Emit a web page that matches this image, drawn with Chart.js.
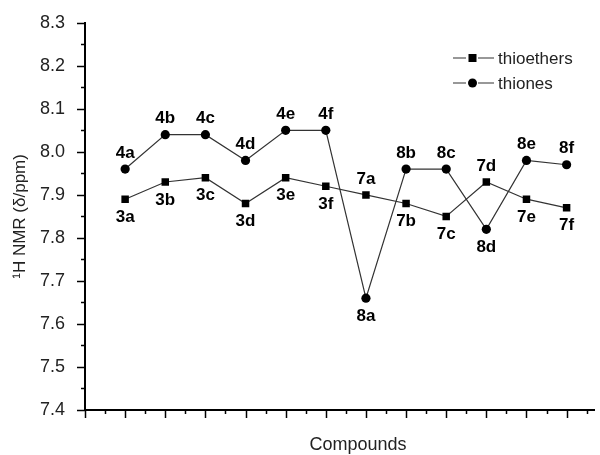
<!DOCTYPE html>
<html>
<head>
<meta charset="utf-8" />
<title>1H NMR of compounds</title>
<script src="https://cdn.jsdelivr.net/npm/chart.js@4"></script>
<style>
  html, body { margin: 0; padding: 0; background: #fff; }
  #wrap { width: 600px; height: 455px; }
</style>
</head>
<body>
<div id="wrap"><canvas id="nmrChart" width="600" height="455"></canvas></div>
<script>
  // chart data
  const positions = [1, 2, 3, 4, 5, 6, 7, 8, 9, 10, 11, 12];
  const thioetherNames = ['3a', '3b', '3c', '3d', '3e', '3f', '7a', '7b', '7c', '7d', '7e', '7f'];
  const thioetherShifts = [7.89, 7.93, 7.94, 7.88, 7.94, 7.92, 7.90, 7.88, 7.85, 7.93, 7.89, 7.87];
  const thioneNames = ['4a', '4b', '4c', '4d', '4e', '4f', '8a', '8b', '8c', '8d', '8e', '8f'];
  const thioneShifts = [7.96, 8.04, 8.04, 7.98, 8.05, 8.05, 7.66, 7.96, 7.96, 7.82, 7.98, 7.97];
  const yTicks = [7.4, 7.5, 7.6, 7.7, 7.8, 7.9, 8.0, 8.1, 8.2, 8.3];

  const FONT = '"Liberation Sans", Arial, sans-serif';

  // which side of the point each label goes (1 = above, -1 = below)
  const thioetherSide = [-1, -1, -1, -1, -1, -1, 1, -1, -1, 1, -1, -1];
  const thioneSide = [1, 1, 1, 1, 1, 1, -1, 1, 1, -1, 1, 1];

  // ticks, point labels, legend and x title drawn on the canvas
  const extras = {
    id: 'extras',
    afterDraw(chart) {
      const ctx = chart.ctx;
      const xs = chart.scales.x, ys = chart.scales.y;
      const area = chart.chartArea;
      ctx.save();
      ctx.strokeStyle = '#000';
      ctx.lineWidth = 1.5;

      // y ticks: major every 0.1, minor halfway
      for (let i = 0; i < yTicks.length; i++) {
        const py = Math.round(ys.getPixelForValue(yTicks[i])) + 0.5;
        ctx.beginPath(); ctx.moveTo(area.left - 8, py); ctx.lineTo(area.left, py); ctx.stroke();
        if (i < yTicks.length - 1) {
          const my = Math.round(ys.getPixelForValue(yTicks[i] + 0.05)) + 0.5;
          ctx.beginPath(); ctx.moveTo(area.left - 4, my); ctx.lineTo(area.left, my); ctx.stroke();
        }
      }
      // x ticks: major at each compound, minor halfway
      for (let v = 0; v <= xs.max; v += 0.5) {
        const px = Math.round(xs.getPixelForValue(v)) + 0.5;
        const len = Number.isInteger(v) ? 8 : 4;
        ctx.beginPath(); ctx.moveTo(px, area.bottom); ctx.lineTo(px, area.bottom + len); ctx.stroke();
      }

      // point labels
      ctx.fillStyle = '#000';
      ctx.textAlign = 'center';
      ctx.textBaseline = 'middle';
      ctx.font = 'bold 17px ' + FONT;
      const sets = [[thioetherNames, thioetherSide], [thioneNames, thioneSide]];
      sets.forEach(([names, side], di) => {
        const meta = chart.getDatasetMeta(di);
        meta.data.forEach((pt, j) => {
          const off = side[j] > 0 ? -16 : 18;
          ctx.fillText(names[j], pt.x, pt.y + off);
        });
      });

      // legend
      ctx.font = '17px ' + FONT;
      ctx.textAlign = 'left';
      const rows = [['thioethers', 'rect', 58], ['thiones', 'circle', 83]];
      rows.forEach(([txt, shape, ly]) => {
        ctx.strokeStyle = '#333';
        ctx.lineWidth = 1.2;
        ctx.beginPath(); ctx.moveTo(453, ly); ctx.lineTo(466, ly); ctx.moveTo(478, ly); ctx.lineTo(494, ly); ctx.stroke();
        ctx.fillStyle = '#000';
        if (shape === 'rect') {
          ctx.fillRect(468.5, ly - 4, 8, 8);
        } else {
          ctx.beginPath(); ctx.arc(472.5, ly, 4.5, 0, Math.PI * 2); ctx.fill();
        }
        ctx.fillStyle = '#222';
        ctx.fillText(txt, 498, ly + 1);
      });

      // x axis title
      ctx.font = '18px ' + FONT;
      ctx.textAlign = 'center';
      ctx.fillText('Compounds', xs.getPixelForValue(6.8), 445);
      ctx.restore();
    }
  };

  const ctxNmr = document.getElementById('nmrChart').getContext('2d');
  new Chart(ctxNmr, {
    type: 'line',
    data: {
      datasets: [
        {
          label: 'thioethers',
          data: positions.map((p, i) => ({ x: p, y: thioetherShifts[i] })),
          borderColor: '#333',
          borderWidth: 1.2,
          pointStyle: 'rect',
          pointRadius: 5.3,
          pointBackgroundColor: '#000',
          pointBorderColor: '#000',
          pointBorderWidth: 0,
          tension: 0,
        },
        {
          label: 'thiones',
          data: positions.map((p, i) => ({ x: p, y: thioneShifts[i] })),
          borderColor: '#333',
          borderWidth: 1.2,
          pointStyle: 'circle',
          pointRadius: 4.6,
          pointBackgroundColor: '#000',
          pointBorderColor: '#000',
          pointBorderWidth: 0,
          tension: 0,
        },
      ],
    },
    options: {
      responsive: false,
      animation: false,
      layout: { padding: { top: 22, right: 0, left: 10, bottom: 0 } },
      plugins: {
        legend: { display: false },
        tooltip: { enabled: false },
      },
      scales: {
        x: {
          type: 'linear',
          min: 0,
          max: 12.7,
          grid: { display: false },
          border: { display: true, color: '#000', width: 2 },
          ticks: { display: false },
          afterFit(scale) { scale.height = 45; },
        },
        y: {
          min: 7.4,
          max: 8.3,
          grid: { display: false },
          border: { display: true, color: '#000', width: 2 },
          ticks: {
            stepSize: 0.1,
            padding: 12,
            color: '#222',
            font: { family: FONT, size: 18 },
            callback: v => v.toFixed(1),
          },
          title: {
            display: true,
            text: '¹H NMR (δ/ppm)',
            color: '#222',
            font: { family: FONT, size: 17 },
            padding: { top: 0, bottom: 0 },
          },
          afterFit(scale) { scale.width = 75; },
        },
      },
    },
    plugins: [extras],
  });
</script>
</body>
</html>
